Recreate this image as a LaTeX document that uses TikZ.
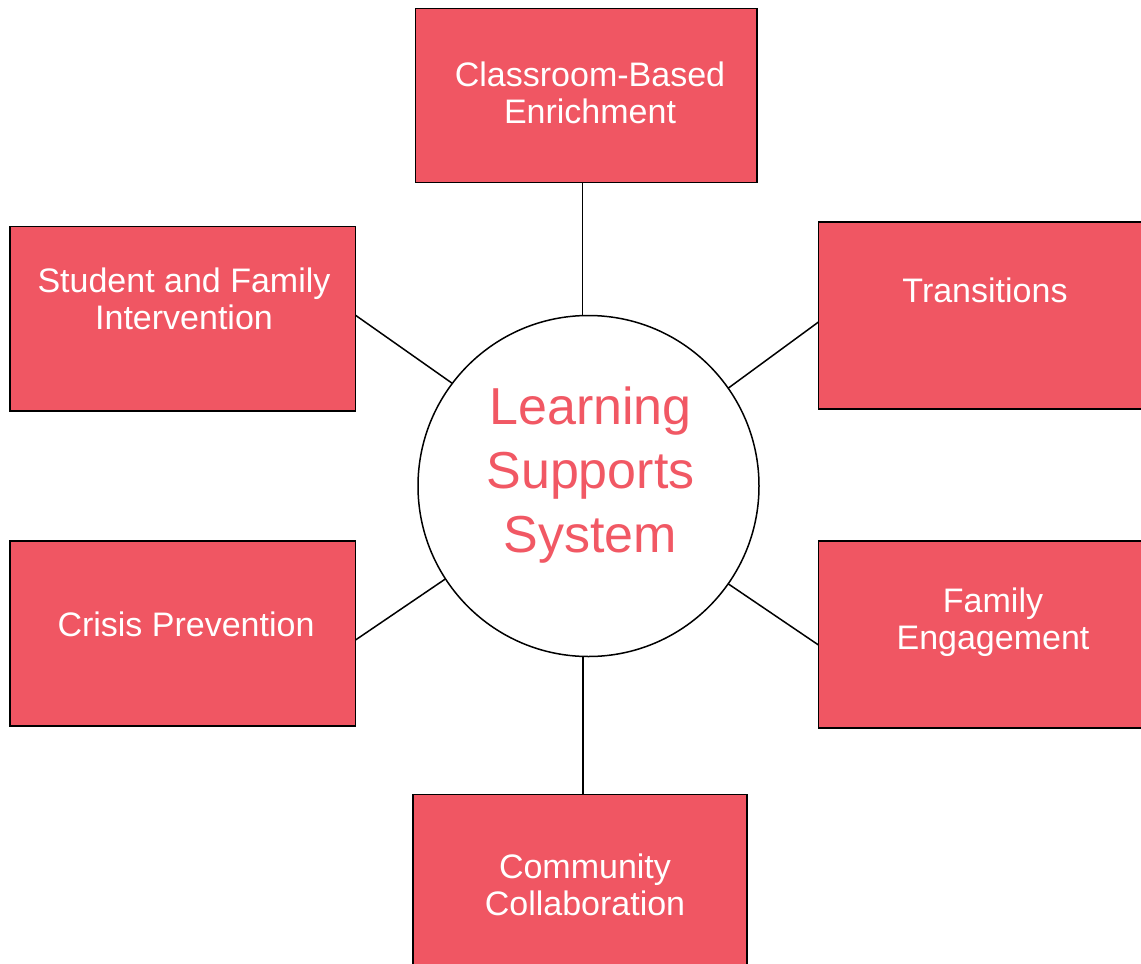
\documentclass[tikz,border=0pt]{standalone}
\usepackage{fontspec}
\setmainfont{Liberation Sans}
\definecolor{boxred}{RGB}{240,86,99}
\definecolor{hubred}{RGB}{241,88,100}
\tikzset{
  boxnode/.style={draw=black, line width=1.8pt, fill=boxred, rectangle, inner sep=0pt, outer sep=0pt},
  boxtext/.style={text=white, align=center, inner sep=0pt, outer sep=0pt, font=\fontsize{34}{37}\selectfont},
  hub/.style={draw=black, line width=1.5pt, fill=white, circle, inner sep=0pt, outer sep=0pt, minimum size=341pt},
  hubtext/.style={text=hubred, align=center, inner sep=0pt, font=\fontsize{52}{64}\selectfont},
  link/.style={draw=black, line width=1.5pt}
}
\begin{document}
\begin{tikzpicture}[x=1pt, y=-1pt]
\useasboundingbox (0,0) rectangle (1141,964);
\clip (0,0) rectangle (1141,964);
\fill[white] (0,0) rectangle (1141,964);

% boxes
\node[boxnode, minimum width=341.5pt, minimum height=174pt] (top) at (586.25,95.5) {};
\node[boxnode, minimum width=345.5pt, minimum height=184.5pt] (lu) at (182.75,318.75) {};
\node[boxnode, minimum width=345pt, minimum height=187pt] (ru) at (991,315.5) {};
\node[boxnode, minimum width=345.5pt, minimum height=185pt] (ll) at (182.75,633.5) {};
\node[boxnode, minimum width=345pt, minimum height=187pt] (rl) at (991,634.5) {};
\node[boxnode, minimum width=334pt, minimum height=180pt] (bot) at (580,884.5) {};

% hub
\node[hub] (hub) at (588.5,486) {};

% connectors
\draw[link] (top.south -| 582.7,0) -- (hub.north -| 582.7,0);
\draw[link] ([yshift=3.5pt]lu.east) -- (hub.143.3);
\draw[link] ([yshift=-6.5pt]ru.west) -- (hub.35.8);
\draw[link] ([yshift=-6.5pt]ll.east) -- (hub.213);
\draw[link] ([yshift=-10.5pt]rl.west) -- (hub.325.5);
\draw[link] (hub.south -| 583,0) -- (bot.north -| 583,0);

% texts
\node[boxtext] (ttop) at (590,93) {Classroom-Based\\Enrichment};
\node[boxtext] (tlu) at (184,299) {Student and Family\\Intervention};
\node[boxtext] (tru) at (985,290.5) {Transitions};
\node[boxtext] (tll) at (186,624) {Crisis Prevention};
\node[boxtext] (trl) at (993,622) {Family\\Engagement};
\node[boxtext] (tbot) at (585,884.5) {Community\\Collaboration};
\node[hubtext] (thub) at (590.5,475.5) {Learning\\Supports\\System};
\end{tikzpicture}
\end{document}
